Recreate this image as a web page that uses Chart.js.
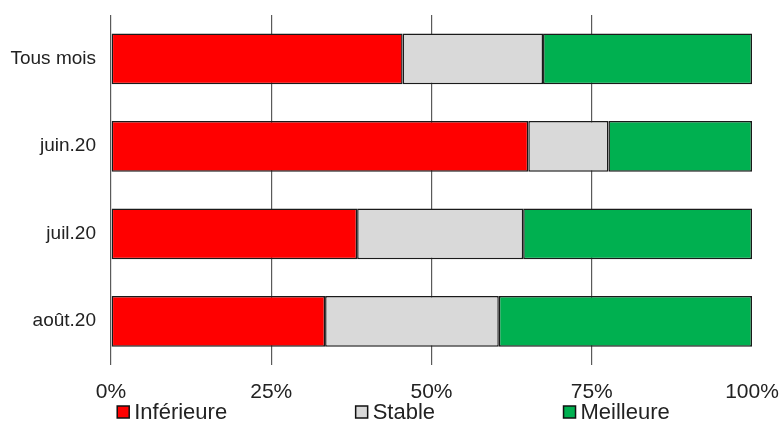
<!DOCTYPE html>
<html>
<head>
<meta charset="utf-8">
<script src="https://cdn.jsdelivr.net/npm/chart.js@4/dist/chart.umd.min.js"></script>
<style>
  html, body { margin: 0; padding: 0; background: #fff; }
  #wrap { width: 781px; height: 423px; position: relative; }
</style>
</head>
<body>
<div id="wrap"><canvas id="myChart"></canvas></div>
<script>
const categories = ["Tous mois", "juin.20", "juil.20", "août.20"];
const seriesNames = ["Inférieure", "Stable", "Meilleure"];
const inferieure = [45.5, 65.1, 38.4, 33.4];
const stable = [21.9, 12.5, 25.9, 27.1];
const meilleure = [32.6, 22.4, 35.7, 39.5];
const xTicks = [0, 25, 50, 75, 100];
const seriesColors = ["#ff0000", "#d9d9d9", "#00b050"];

const fontFamily = "'Liberation Sans', Arial, sans-serif";

// simple legend drawn under the axis, items spaced wide like the original
const wideLegend = {
  id: "wideLegend",
  afterDraw(chart) {
    const ctx = chart.ctx;
    const gap = 128.5;
    const box = 12;
    const textGap = 5;
    ctx.save();
    ctx.font = "22px " + fontFamily;
    ctx.textBaseline = "middle";
    const widths = chart.data.datasets.map(
      (ds) => box + textGap + ctx.measureText(ds.label).width
    );
    const total = widths.reduce((a, b) => a + b, 0) + gap * (widths.length - 1);
    let x = (chart.width - total) / 2 + 3;
    const y = 412;
    chart.data.datasets.forEach((ds, i) => {
      ctx.fillStyle = ds.backgroundColor;
      ctx.fillRect(x, y - box / 2, box, box);
      ctx.lineWidth = 1.5;
      ctx.strokeStyle = "#111";
      ctx.strokeRect(x, y - box / 2, box, box);
      ctx.fillStyle = "#222";
      ctx.fillText(ds.label, x + box + textGap, y + 1);
      x += widths[i] + gap;
    });
    ctx.restore();
  },
};

const ctx = document.getElementById("myChart");
const Data = {
  labels: categories,
  datasets: [inferieure, stable, meilleure].map((values, i) => ({
    label: seriesNames[i],
    data: values,
    backgroundColor: seriesColors[i],
    borderColor: "#1a1a1a",
    borderWidth: 1.5,
    borderSkipped: false,
    barPercentage: 0.58,
    categoryPercentage: 1,
  })),
};
const Config = {
  type: "bar",
  data: Data,
  options: {
    indexAxis: "y",
    responsive: true,
    maintainAspectRatio: false,
    animation: false,
    layout: { padding: { top: 15, bottom: 6, left: 0, right: 29 } },
    plugins: {
      legend: { display: false },
      tooltip: { enabled: false },
    },
    scales: {
      x: {
        stacked: true,
        min: 0,
        max: 100,
        afterBuildTicks: (axis) => {
          axis.ticks = xTicks.map((v) => ({ value: v }));
        },
        afterFit: (axis) => {
          axis.paddingLeft = 0;
          axis.paddingRight = 0;
          axis.height = 52;
        },
        grid: {
          drawTicks: false,
          color: (c) => (c.tick && c.tick.value === 100 ? "rgba(0,0,0,0)" : "#5a5a5a"),
          lineWidth: 1.2,
        },
        border: { display: false },
        ticks: {
          padding: 15,
          color: "#222",
          font: { family: fontFamily, size: 21 },
          callback: (v) => v + "%",
        },
      },
      y: {
        stacked: true,
        afterFit: (axis) => {
          axis.paddingTop = 0;
          axis.paddingBottom = 0;
          axis.width = 111;
        },
        grid: { display: false, drawTicks: false },
        border: { display: false },
        ticks: {
          padding: 15,
          color: "#222",
          font: { family: fontFamily, size: 19 },
        },
      },
    },
  },
  plugins: [wideLegend],
};
const myChart = new Chart(ctx, Config);
</script>
</body>
</html>
